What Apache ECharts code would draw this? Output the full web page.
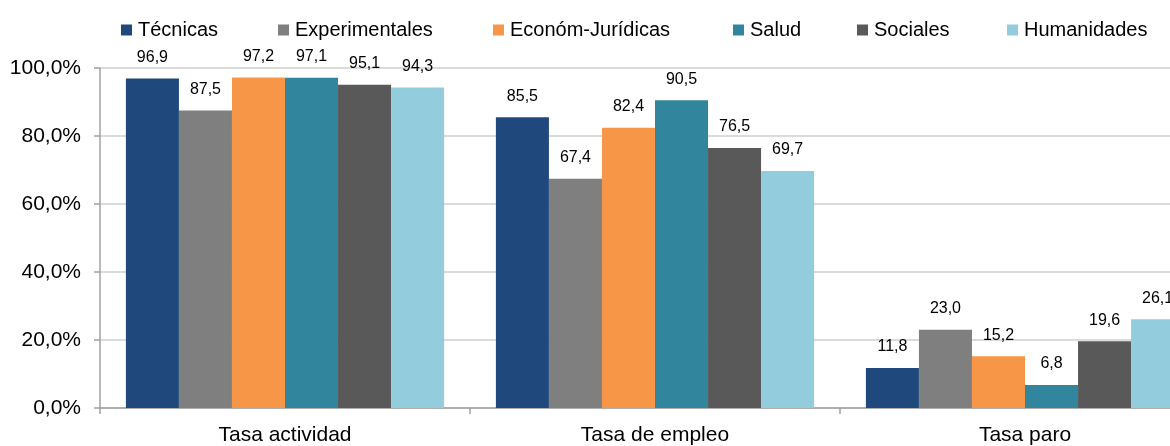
<!DOCTYPE html>
<html>
<head>
<meta charset="utf-8">
<script src="https://cdn.jsdelivr.net/npm/echarts@6/dist/echarts.min.js"></script>
<style>
  html, body { margin: 0; padding: 0; background: #fff; overflow: hidden; }
  #chart { width: 1210px; height: 446px; }
</style>
</head>
<body>
<div id="chart"></div>
<script>
// datos (%)
var categorias = ['Tasa actividad', 'Tasa de empleo', 'Tasa paro'];
var ramas = ['Técnicas', 'Experimentales', 'Económ-Jurídicas', 'Salud', 'Sociales', 'Humanidades'];
var tecnicas = [96.9, 85.5, 11.8];
var experimentales = [87.5, 67.4, 23.0];
var economicas = [97.2, 82.4, 15.2];
var salud = [97.1, 90.5, 6.8];
var sociales = [95.1, 76.5, 19.6];
var humanidades = [94.3, 69.7, 26.1];
var ticksY = [0, 20, 40, 60, 80, 100];

var valores = [tecnicas, experimentales, economicas, salud, sociales, humanidades];
var colores = ['#1f497d', '#7f7f7f', '#f79646', '#31859c', '#595959', '#93cddd'];
var legendX = [116, 273, 488, 728, 852, 1002];
var fuente = 'Liberation Sans, Arial, sans-serif';

function coma(v) {
    return v.toFixed(1).replace('.', ',');
}

// el gráfico original queda cortado a la derecha: el lienzo es más ancho que la ventana
var myChart = echarts.init(document.getElementById('chart'));

let option = {
    animation: false,
    color: colores,
    textStyle: { fontFamily: fuente, color: '#000' },
    legend: ramas.map(function (r, i) {
        return {
            data: [r],
            left: legendX[i],
            top: 15,
            itemWidth: 11,
            itemHeight: 11,
            icon: 'rect',
            itemGap: 0,
            textStyle: { fontSize: 20, color: '#000', fontFamily: fuente, padding: [0, 0, 0, 1] }
        };
    }),
    grid: { left: 100, right: 0, top: 68, bottom: 34, containLabel: false },
    xAxis: {
        type: 'category',
        data: categorias,
        axisLine: { lineStyle: { color: '#a0a0a0', width: 1.5 } },
        axisTick: { show: true, length: 6, lineStyle: { color: '#a0a0a0', width: 1.5 } },
        axisLabel: { fontSize: 21, color: '#000', margin: 17, fontFamily: fuente }
    },
    yAxis: {
        type: 'value',
        min: ticksY[0],
        max: ticksY[ticksY.length - 1],
        interval: ticksY[1] - ticksY[0],
        axisLine: { show: true, lineStyle: { color: '#a0a0a0', width: 1.5 } },
        axisTick: { show: true, length: 6, lineStyle: { color: '#a0a0a0', width: 1.5 } },
        splitLine: { lineStyle: { color: '#cfcfcf', width: 1.5 } },
        axisLabel: {
            fontSize: 21, color: '#000', margin: 19, fontFamily: fuente,
            formatter: function (v) { return coma(v) + '%'; }
        }
    },
    series: ramas.map(function (r, i) {
        return {
            name: r,
            type: 'bar',
            data: valores[i],
            barGap: 0,
            barCategoryGap: '14%',
            label: {
                show: true,
                position: 'top',
                distance: 13,
                fontSize: 16,
                color: '#000',
                fontFamily: fuente,
                formatter: function (p) { return coma(p.value); }
            }
        };
    })
};

myChart.setOption(option);
</script>
</body>
</html>
